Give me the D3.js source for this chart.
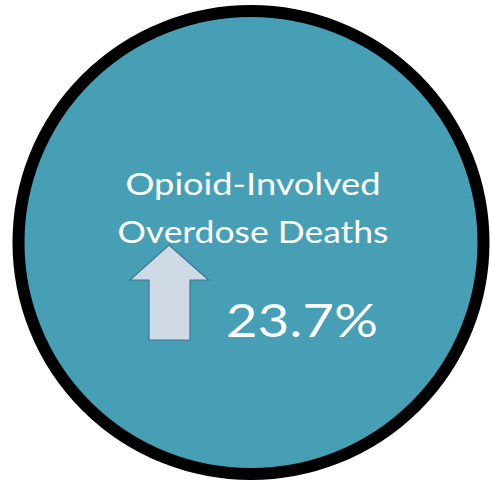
<!DOCTYPE html>
<html>
<head>
<meta charset="utf-8">
<script src="https://cdn.jsdelivr.net/npm/d3@7"></script>
<style>
  html, body { margin: 0; padding: 0; background: #fff; }
  svg { display: block; }
</style>
</head>
<body>
<script>
// values
const titleLines = ["Opioid-Involved", "Overdose Deaths"];
const changePct = [23.7];
const direction = ["up"];

const width = 491;
const height = 483;

const svg = d3.select("body")
    .append("svg")
    .attr("width", width)
    .attr("height", height)

// badge circle
svg.append("ellipse")
    .attr("cx", 251)
    .attr("cy", 242.5)
    .attr("rx", 232.5)
    .attr("ry", 231.5)
    .attr("fill", "#479FB6")
    .attr("stroke", "#000")
    .attr("stroke-width", 12)

// title lines
const lineWidths = [255, 271];
svg.selectAll("text.title")
    .data(titleLines)
    .enter()
    .append("text")
    .attr("class", "title")
    .attr("x", 253)
    .attr("y", (d, i) => 195 + i * 48)
    .attr("text-anchor", "middle")
    .attr("font-family", "Lato, 'Open Sans', sans-serif")
    .attr("font-size", 30)
    .attr("fill", "#fff")
    .attr("textLength", (d, i) => lineWidths[i])
    .attr("lengthAdjust", "spacingAndGlyphs")
    .text(d => d)

// up arrow
const arrow = d3.line()
svg.selectAll("path.arrow")
    .data(direction)
    .enter()
    .append("path")
    .attr("class", "arrow")
    .attr("d", d => {
        const tip = d === "up" ? 245 : 340;
        return arrow([[169, tip], [208.5, 280], [190, 280], [190, 340], [149, 340], [149, 280], [130, 280]]) + "Z";
    })
    .attr("fill", "#D0DAE6")
    .attr("stroke", "#3C7A92")
    .attr("stroke-width", 1.2)

// percentage
const fmt = d => d3.format(".1f")(d) + "%";
svg.selectAll("text.pct")
    .data(changePct)
    .enter()
    .append("text")
    .attr("class", "pct")
    .attr("x", 226)
    .attr("y", 337)
    .attr("font-family", "Lato, 'Open Sans', sans-serif")
    .attr("font-size", 47)
    .attr("fill", "#fff")
    .attr("textLength", 152)
    .attr("lengthAdjust", "spacingAndGlyphs")
    .text(fmt)
</script>
</body>
</html>
